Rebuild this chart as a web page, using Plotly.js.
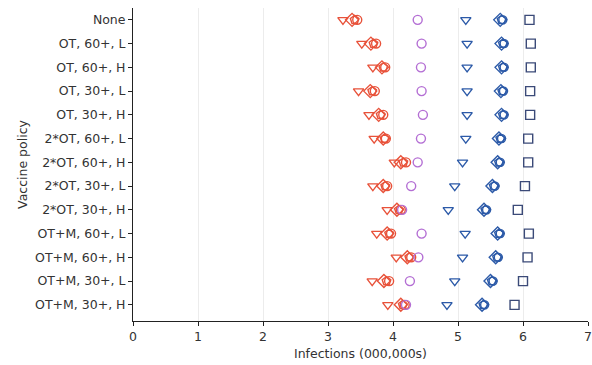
<!DOCTYPE html>
<html>
<head>
<meta charset="utf-8">
<script src="https://cdn.plot.ly/plotly-3.0.1.min.js"></script>
<style>html,body{margin:0;padding:0;background:#fff;}#chart{width:592px;height:365px;}</style>
</head>
<body>
<div id="chart"></div>
<script>
const categories = ["None","OT, 60+, L","OT, 60+, H","OT, 30+, L","OT, 30+, H","2*OT, 60+, L","2*OT, 60+, H","2*OT, 30+, L","2*OT, 30+, H","OT+M, 60+, L","OT+M, 60+, H","OT+M, 30+, L","OT+M, 30+, H"];
const xTicks = [0,1,2,3,4,5,6,7];

const redTri    = [3.23,3.52,3.69,3.47,3.63,3.71,4.02,3.69,3.91,3.75,4.05,3.68,3.92];
const redDia    = [3.37,3.66,3.83,3.65,3.78,3.85,4.12,3.85,4.06,3.91,4.22,3.86,4.12];
const redPent   = [3.41,3.70,3.85,3.68,3.81,3.87,4.16,3.88,4.09,3.94,4.25,3.90,4.15];
const redCirc   = [3.45,3.74,3.88,3.72,3.85,3.89,4.20,3.91,4.12,3.97,4.28,3.94,4.18];
const purpleCirc= [4.38,4.44,4.43,4.44,4.46,4.43,4.38,4.28,4.14,4.44,4.39,4.26,4.20];
const blueTri   = [5.12,5.14,5.14,5.14,5.14,5.12,5.07,4.95,4.85,5.11,5.07,4.95,4.83];
const blueDia   = [5.65,5.67,5.67,5.66,5.67,5.63,5.61,5.53,5.40,5.61,5.58,5.50,5.37];
const bluePent  = [5.67,5.69,5.69,5.68,5.69,5.65,5.63,5.55,5.42,5.63,5.60,5.52,5.39];
const blueCirc  = [5.69,5.71,5.71,5.70,5.71,5.67,5.65,5.57,5.44,5.65,5.62,5.54,5.41];
const blueSq    = [6.10,6.12,6.12,6.11,6.11,6.08,6.08,6.03,5.92,6.09,6.07,6.00,5.87];

const RED = "#e8523a", PURPLE = "#b46fd4", BLUE = "#2c5aa8", SQ = "#3b4a78";
function tr(x, sym, color, size){
  return {type:"scatter", mode:"markers", x:x, y:categories,
    marker:{symbol:sym, size:size, color:color, line:{color:color, width:1.4}},
    showlegend:false, hoverinfo:"x+y"};
}
const data = [
  tr(redTri,"triangle-down-open",RED,9),
  tr(redDia,"diamond-open",RED,10),
  tr(redPent,"pentagon-open",RED,9),
  tr(redCirc,"circle-open",RED,9),
  tr(purpleCirc,"circle-open",PURPLE,9),
  tr(blueTri,"triangle-down-open",BLUE,9),
  tr(blueDia,"diamond-open",BLUE,10),
  tr(bluePent,"pentagon-open",BLUE,9),
  tr(blueCirc,"circle-open",BLUE,8),
  tr(blueSq,"square-open",SQ,9)
];
const font = {family:"DejaVu Sans, sans-serif", size:12.5, color:"#333"};
const layout = {
  width:592, height:365,
  margin:{l:133, r:4, t:8, b:44},
  paper_bgcolor:"#fff", plot_bgcolor:"#fff",
  font:font,
  xaxis:{range:[0,7], tickvals:xTicks, ticktext:xTicks.map(String),
    showgrid:true, gridcolor:"#ececec", gridwidth:1, zeroline:false,
    showline:true, linecolor:"#222", linewidth:1, ticks:"outside", ticklen:4, tickcolor:"#222",
    title:{text:"Infections (000,000s)", font:font, standoff:6}},
  yaxis:{type:"category", categoryorder:"array", categoryarray:categories,
    range:[12.68,-0.5], showgrid:false, zeroline:false,
    showline:true, linecolor:"#222", linewidth:1, ticks:"outside", ticklen:4, tickcolor:"#222",
    title:{text:"Vaccine policy", font:font, standoff:4}}
};
Plotly.newPlot("chart", data, layout, {displayModeBar:false, staticPlot:true});
</script>
</body>
</html>
